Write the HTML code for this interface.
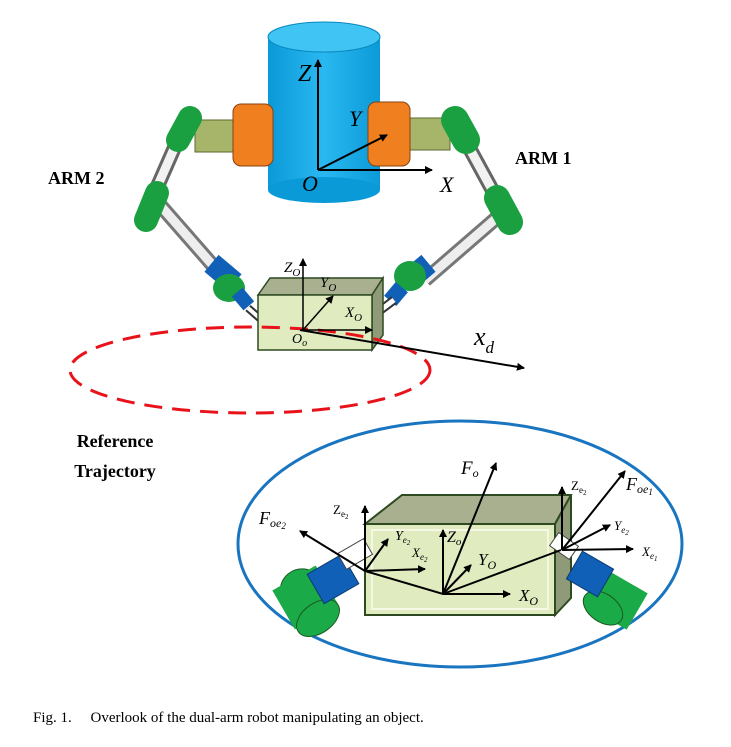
<!DOCTYPE html>
<html><head><meta charset="utf-8"><style>
body{margin:0;background:#fff;width:731px;height:747px;overflow:hidden}
svg{display:block}
.it{font-family:"Liberation Serif",serif;font-style:italic}
.b{font-family:"Liberation Serif",serif;font-weight:bold;font-size:18px}
</style></head><body>
<svg width="731" height="747" viewBox="0 0 731 747">
<defs>
<marker id="a" markerWidth="8" markerHeight="8" refX="7" refY="4" orient="auto" markerUnits="userSpaceOnUse"><path d="M0,0 L8,4 L0,8 z" fill="#000"/></marker>
<linearGradient id="cyl" x1="0" x2="1"><stop offset="0" stop-color="#0b9ad8"/><stop offset=".5" stop-color="#29b8f0"/><stop offset="1" stop-color="#0b9ad8"/></linearGradient>
</defs>
<rect x="268" y="37" width="112" height="153" fill="url(#cyl)"/>
<ellipse cx="324" cy="190" rx="56" ry="13" fill="#0b9ad8"/>
<ellipse cx="324" cy="37" rx="56" ry="15" fill="#40c4f4" stroke="#0a88c0"/>
<rect x="195" y="120" width="45" height="32" fill="#a7b56a" stroke="#5a6a30"/>
<rect x="403" y="118" width="47" height="32" fill="#a7b56a" stroke="#5a6a30"/>
<rect x="233" y="104" width="40" height="62" rx="8" fill="#f07f1f" stroke="#8a4010"/>
<rect x="368" y="102" width="42" height="64" rx="8" fill="#f07f1f" stroke="#8a4010"/>
<!-- left arm -->
<line x1="180" y1="135" x2="155" y2="192" stroke="#666" stroke-width="15"/>
<line x1="180" y1="135" x2="155" y2="192" stroke="#f2f2f2" stroke-width="9"/>
<line x1="160" y1="205" x2="230" y2="285" stroke="#777" stroke-width="15"/>
<line x1="160" y1="205" x2="230" y2="285" stroke="#eee" stroke-width="9"/>
<line x1="190" y1="118" x2="178" y2="140" stroke="#1aa040" stroke-width="24" stroke-linecap="round"/>
<line x1="157" y1="193" x2="146" y2="220" stroke="#1aa040" stroke-width="24" stroke-linecap="round"/>
<rect x="208" y="262" width="30" height="22" fill="#1060b8" transform="rotate(40 223 273)"/>
<ellipse cx="229" cy="288" rx="16" ry="14" fill="#1aa040"/>
<rect x="236" y="290" width="14" height="18" fill="#1060b8" transform="rotate(-40 243 299)"/>
<line x1="248" y1="308" x2="264" y2="322" stroke="#333" stroke-width="8"/>
<line x1="248" y1="308" x2="264" y2="322" stroke="#fff" stroke-width="4"/>
<!-- right arm -->
<line x1="465" y1="140" x2="495" y2="195" stroke="#666" stroke-width="15"/>
<line x1="465" y1="140" x2="495" y2="195" stroke="#f2f2f2" stroke-width="9"/>
<line x1="500" y1="215" x2="425" y2="280" stroke="#777" stroke-width="15"/>
<line x1="500" y1="215" x2="425" y2="280" stroke="#eee" stroke-width="9"/>
<line x1="455" y1="120" x2="466" y2="140" stroke="#1aa040" stroke-width="28" stroke-linecap="round"/>
<line x1="497" y1="198" x2="510" y2="222" stroke="#1aa040" stroke-width="26" stroke-linecap="round"/>
<rect x="402" y="262" width="30" height="22" fill="#1060b8" transform="rotate(-40 417 273)"/>
<ellipse cx="410" cy="276" rx="16" ry="15" fill="#1aa040"/>
<rect x="388" y="285" width="16" height="18" fill="#1060b8" transform="rotate(40 396 294)"/>
<line x1="394" y1="300" x2="378" y2="312" stroke="#333" stroke-width="9"/>
<line x1="394" y1="300" x2="378" y2="312" stroke="#fff" stroke-width="5"/>
<polygon points="258,295 270,278 383,278 372,295" fill="#a8b090" stroke="#2e4a20" stroke-width="1.5"/>
<polygon points="372,295 383,278 383,335 372,350" fill="#8e9a78" stroke="#2e4a20" stroke-width="1.5"/>
<rect x="258" y="295" width="114" height="55" fill="#e0ebc0" stroke="#2e4a20" stroke-width="1.5"/>
<ellipse cx="250" cy="370" rx="180" ry="43" fill="none" stroke="#e8121a" stroke-width="3" stroke-dasharray="18,10"/>
<g stroke="#000" stroke-width="2" fill="none">
<line x1="318" y1="170" x2="318" y2="60" marker-end="url(#a)"/>
<line x1="318" y1="170" x2="432" y2="170" marker-end="url(#a)"/>
<line x1="318" y1="170" x2="387" y2="135" marker-end="url(#a)"/>
<line x1="303" y1="330" x2="303" y2="259" marker-end="url(#a)" stroke-width="1.5"/>
<line x1="303" y1="330" x2="372" y2="330" marker-end="url(#a)" stroke-width="1.5"/>
<line x1="303" y1="330" x2="333" y2="296" marker-end="url(#a)" stroke-width="1.5"/>
<line x1="300" y1="330" x2="524" y2="368" marker-end="url(#a)"/>
</g>
<g class="it">
<text x="298" y="81" font-size="24">Z</text>
<text x="349" y="126" font-size="22">Y</text>
<text x="440" y="192" font-size="22">X</text>
<text x="302" y="191" font-size="22">O</text>
<text x="284" y="272" font-size="15">Z<tspan font-size="11" dy="4">O</tspan></text>
<text x="320" y="287" font-size="15">Y<tspan font-size="11" dy="4">O</tspan></text>
<text x="345" y="317" font-size="15">X<tspan font-size="11" dy="4">O</tspan></text>
<text x="292" y="343" font-size="14">O<tspan font-size="10" dy="3">o</tspan></text>
<text x="474" y="345" font-size="26">x<tspan font-size="17" dy="8">d</tspan></text>
</g>
<text class="b" x="48" y="184">ARM 2</text>
<text class="b" x="515" y="164">ARM 1</text>
<text class="b" x="115" y="447" text-anchor="middle">Reference</text>
<text class="b" x="115" y="477" text-anchor="middle">Trajectory</text>
<ellipse cx="460" cy="544" rx="222" ry="123" fill="none" stroke="#1a75c0" stroke-width="3"/>
<polygon points="365,524 402,495 571,495 555,524" fill="#a8b090" stroke="#2e4a20" stroke-width="2"/>
<polygon points="555,524 571,495 571,598 555,615" fill="#8e9a78" stroke="#2e4a20" stroke-width="2"/>
<rect x="365" y="524" width="190" height="91" fill="#e0ebc0" stroke="#2e4a20" stroke-width="2"/>
<rect x="372" y="530" width="176" height="79" fill="none" stroke="#f4f8e4" stroke-width="2"/>
<ellipse cx="305" cy="595" rx="24" ry="27" fill="#1aaa48" stroke="#1a5a20" transform="rotate(-35 305 595)"/>
<rect x="280" y="575" width="50" height="45" fill="#1aaa48" transform="rotate(-30 305 597)"/>
<ellipse cx="318" cy="618" rx="24" ry="15" fill="#1aaa48" stroke="#1a5a20" transform="rotate(-35 318 618)"/>
<rect x="313" y="562" width="40" height="34" fill="#1060b8" stroke="#0a3a70" transform="rotate(-30 333 579)"/>
<rect x="340" y="545" width="30" height="18" fill="#fff" stroke="#444" transform="rotate(-30 355 554)"/>
<rect x="598" y="580" width="42" height="42" fill="#1aaa48" transform="rotate(30 619 601)"/>
<ellipse cx="603" cy="608" rx="22" ry="14" fill="#1aaa48" stroke="#1a5a20" transform="rotate(35 603 608)"/>
<rect x="572" y="558" width="36" height="32" fill="#1060b8" stroke="#0a3a70" transform="rotate(30 590 574)"/>
<rect x="552" y="538" width="24" height="16" fill="#fff" stroke="#444" transform="rotate(35 564 546)"/>
<g stroke="#000" stroke-width="2" fill="none">
<polyline points="365,571 443,594 561,550"/>
<line x1="443" y1="594" x2="443" y2="530" marker-end="url(#a)"/>
<line x1="443" y1="594" x2="496" y2="463" marker-end="url(#a)"/>
<line x1="443" y1="594" x2="471" y2="565" marker-end="url(#a)"/>
<line x1="443" y1="594" x2="510" y2="594" marker-end="url(#a)"/>
<line x1="365" y1="571" x2="365" y2="506" marker-end="url(#a)"/>
<line x1="365" y1="571" x2="388" y2="539" marker-end="url(#a)"/>
<line x1="365" y1="571" x2="425" y2="569" marker-end="url(#a)"/>
<line x1="365" y1="571" x2="300" y2="531" marker-end="url(#a)"/>
<line x1="562" y1="550" x2="562" y2="487" marker-end="url(#a)"/>
<line x1="562" y1="550" x2="625" y2="471" marker-end="url(#a)"/>
<line x1="562" y1="550" x2="610" y2="525" marker-end="url(#a)"/>
<line x1="562" y1="550" x2="633" y2="549" marker-end="url(#a)"/>
</g>
<g class="it">
<text x="461" y="474" font-size="19">F<tspan font-size="12" dy="3">o</tspan></text>
<text x="626" y="490" font-size="18">F<tspan font-size="12" dy="3">oe<tspan font-size="9" dy="2">1</tspan></tspan></text>
<text x="259" y="524" font-size="18">F<tspan font-size="12" dy="3">oe<tspan font-size="9" dy="2">2</tspan></tspan></text>
<text x="333" y="514" font-size="13" font-style="normal">Z<tspan font-size="9" dy="3">e<tspan font-size="7" dy="2">2</tspan></tspan></text>
<text x="571" y="490" font-size="13" font-style="normal">Z<tspan font-size="9" dy="3">e<tspan font-size="7" dy="2">2</tspan></tspan></text>
<text x="395" y="540" font-size="14">Y<tspan font-size="9" dy="3">e<tspan font-size="7" dy="2">2</tspan></tspan></text>
<text x="412" y="557" font-size="13">X<tspan font-size="9" dy="3">e<tspan font-size="7" dy="2">2</tspan></tspan></text>
<text x="614" y="530" font-size="13">Y<tspan font-size="9" dy="3">e<tspan font-size="7" dy="2">2</tspan></tspan></text>
<text x="642" y="556" font-size="13">X<tspan font-size="9" dy="3">e<tspan font-size="7" dy="2">1</tspan></tspan></text>
<text x="447" y="542" font-size="16">Z<tspan font-size="11" dy="3">o</tspan></text>
<text x="478" y="565" font-size="17">Y<tspan font-size="12" dy="4">O</tspan></text>
<text x="519" y="601" font-size="17">X<tspan font-size="12" dy="4">O</tspan></text>
</g>
<text x="33" y="722" font-family="Liberation Serif,serif" font-size="15">Fig. 1.&#160;&#160;&#160;&#160; Overlook of the dual-arm robot manipulating an object.</text>
</svg>
</body></html>
